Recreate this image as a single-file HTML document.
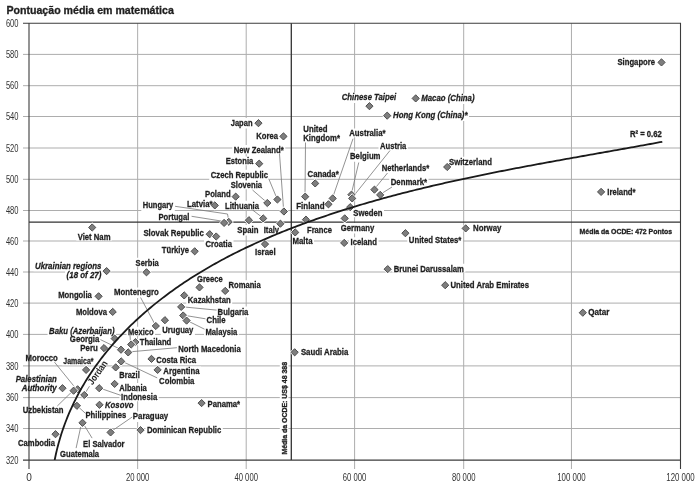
<!DOCTYPE html><html><head><meta charset="utf-8"><style>html,body{margin:0;padding:0;background:#fff;width:699px;height:487px;overflow:hidden}svg{display:block;filter:blur(0.4px)}text{font-family:"Liberation Sans",sans-serif}</style></head><body>
<svg width="699" height="487" viewBox="0 0 699 487">
<rect width="699" height="487" fill="#fff"/>
<text x="6.4" y="14.2" font-size="10.5" font-weight="bold" fill="#1e1e1e" stroke="#222" stroke-width="0.3" textLength="167.4" lengthAdjust="spacingAndGlyphs">Pontuação média em matemática</text>
<path d="M23,428.50H680.50M23,397.60H680.50M23,365.90H680.50M23,334.40H680.50M23,303.10H680.50M23,272.00H680.50M23,241.00H680.50M23,210.50H680.50M23,179.30H680.50M23,148.00H680.50M23,116.50H680.50M23,85.70H680.50M23,54.40H680.50M137.65,23.30V469M246.20,23.30V469M354.60,23.30V469M463.70,23.30V469M571.45,23.30V469" stroke="#adadad" stroke-width="1" fill="none"/>
<path d="M616.00,57.50h40.50v10.56h-40.50zM419.75,93.50h56.25v10.56h-56.25zM340.25,92.50h57.50v10.56h-57.50zM391.50,110.50h77.50v10.56h-77.50zM229.25,118.00h24.75v10.56h-24.75zM254.75,131.50h24.75v8.86h-24.75zM301.75,124.25h27.25v8.86h-27.25zM301.75,133.00h39.75v10.56h-39.75zM232.25,145.00h53.00v8.86h-53.00zM347.75,128.50h39.25v8.86h-39.25zM378.50,141.00h29.25v8.86h-29.25zM348.50,151.25h33.50v10.56h-33.50zM224.25,156.50h30.50v8.86h-30.50zM447.50,156.75h45.90v8.86h-45.90zM380.25,163.00h50.50v8.86h-50.50zM209.25,169.75h60.25v10.56h-60.25zM306.00,168.75h34.25v8.86h-34.25zM389.25,177.25h39.25v8.86h-39.25zM229.25,180.50h34.25v8.86h-34.25zM203.50,189.25h28.75v8.86h-28.75zM185.50,198.75h28.50v8.86h-28.50zM223.50,200.70h37.00v8.86h-37.00zM141.30,200.40h33.50v10.56h-33.50zM294.75,201.50h31.25v8.86h-31.25zM351.75,208.50h32.25v8.86h-32.25zM156.90,211.90h34.00v10.56h-34.00zM235.70,225.00h24.20v10.56h-24.20zM262.20,225.00h18.40v10.56h-18.40zM305.50,224.75h28.00v8.86h-28.00zM339.25,223.00h36.50v10.56h-36.50zM471.50,223.50h31.40v10.56h-31.40zM605.80,186.80h31.30v8.86h-31.30zM628.40,129.00h34.85v8.86h-34.85zM76.20,231.60h35.80v8.86h-35.80zM141.90,228.30h63.50v10.56h-63.50zM291.00,236.25h23.00v8.86h-23.00zM349.00,237.25h29.50v8.86h-29.50zM407.30,234.80h55.60v8.86h-55.60zM204.00,239.50h29.50v8.86h-29.50zM160.30,245.20h30.20v10.56h-30.20zM253.50,247.50h23.60v8.86h-23.60zM134.10,257.80h26.10v8.86h-26.10zM33.50,260.80h69.40v10.56h-69.40zM65.10,270.50h37.80v10.56h-37.80zM392.25,263.70h73.15v8.86h-73.15zM195.50,273.90h28.80v8.86h-28.80zM227.00,280.20h35.20v8.86h-35.20zM448.90,280.40h81.60v8.86h-81.60zM56.70,290.00h36.60v10.56h-36.60zM112.60,287.50h47.60v10.56h-47.60zM186.30,295.20h45.90v8.86h-45.90zM74.40,307.00h34.10v8.86h-34.10zM216.10,306.60h33.70v10.56h-33.70zM586.70,307.20h24.10v8.86h-24.10zM205.00,315.30h22.10v8.86h-22.10zM160.70,325.30h34.20v10.56h-34.20zM204.00,326.70h34.80v10.56h-34.80zM47.60,325.70h68.40v10.56h-68.40zM126.50,326.70h28.50v8.86h-28.50zM68.30,333.70h32.60v10.56h-32.60zM138.20,337.20h34.60v8.86h-34.60zM78.80,343.40h20.50v8.86h-20.50zM176.80,343.80h65.40v8.86h-65.40zM299.40,346.80h50.40v8.86h-50.40zM24.00,353.20h35.20v8.86h-35.20zM154.70,354.90h42.80v8.86h-42.80zM61.80,356.30h33.20v8.86h-33.20zM161.80,366.40h39.20v10.56h-39.20zM117.80,370.00h23.50v8.86h-23.50zM14.20,373.70h44.00v8.86h-44.00zM20.20,383.30h38.00v10.56h-38.00zM157.60,375.70h38.30v8.86h-38.30zM117.80,383.00h30.50v8.86h-30.50zM119.50,392.30h39.20v8.86h-39.20zM206.10,398.70h35.50v8.86h-35.50zM103.50,400.00h31.50v8.86h-31.50zM21.20,404.90h43.80v8.86h-43.80zM84.00,410.20h43.80v10.56h-43.80zM131.30,411.50h38.40v10.56h-38.40zM145.40,425.30h77.40v10.56h-77.40zM16.60,438.00h39.90v8.86h-39.90zM81.60,438.90h44.50v8.86h-44.50zM58.60,449.00h42.00v8.86h-42.00zM279.8,360.8h8.6v94.6h-8.6zM578.5,227.5h95v8h-95z" fill="#fff"/>
<path d="M23,23.30H680.50V460.10H23M29.00,23.30V469M680.50,23.30V469" stroke="#3c3c3c" stroke-width="1.1" fill="none"/>
<path d="M29.00,222.10H680.50M291.30,23.30V460.10" stroke="#333" stroke-width="1.3" fill="none"/>
<path d="M279.50,153.75L283.70,211.10M268.75,178.75L277.20,199.10M252.50,190.00L267.10,202.60M305.50,142.50L305.00,196.25M353.00,138.75L332.50,198.00M390.00,150.50L352.00,198.00M358.75,162.50L351.25,194.25M387.50,173.00L374.25,189.25M392.00,187.00L380.00,194.50M175.10,206.30L227.50,214.00L228.30,218.10M191.60,216.30L222.30,221.20M252.60,210.00L263.00,218.00M140.60,297.50L155.60,325.60M216.60,310.10L181.00,306.70M205.50,318.80L183.00,315.10M204.50,329.20L186.40,320.20M130.00,335.20L130.60,343.90M100.40,339.60L120.50,349.30M128.00,352.00L176.90,347.70M121.00,360.80L157.20,377.90M54.50,362.20L76.20,388.90M89.50,386.20L84.10,394.70M99.00,387.80L120.70,395.30M57.30,406.00L73.40,390.30M76.70,405.40L85.50,413.40M110.40,432.00L132.20,417.00M76.10,448.10L80.70,427.00M92.10,438.10L84.10,425.00" stroke="#777" stroke-width="0.8" fill="none"/>
<path d="M661.50,58.80l3.60,3.60l-3.60,3.60l-3.60,-3.60z" fill="#fff" stroke="#fff" stroke-width="2.2"/><path d="M661.50,58.80l3.60,3.60l-3.60,3.60l-3.60,-3.60z" fill="#7e7e7e" stroke="#4d4d4d" stroke-width="1"/><path d="M415.70,94.80l3.60,3.60l-3.60,3.60l-3.60,-3.60z" fill="#fff" stroke="#fff" stroke-width="2.2"/><path d="M415.70,94.80l3.60,3.60l-3.60,3.60l-3.60,-3.60z" fill="#7e7e7e" stroke="#4d4d4d" stroke-width="1"/><path d="M369.45,102.55l3.60,3.60l-3.60,3.60l-3.60,-3.60z" fill="#fff" stroke="#fff" stroke-width="2.2"/><path d="M369.45,102.55l3.60,3.60l-3.60,3.60l-3.60,-3.60z" fill="#7e7e7e" stroke="#4d4d4d" stroke-width="1"/><path d="M387.20,112.05l3.60,3.60l-3.60,3.60l-3.60,-3.60z" fill="#fff" stroke="#fff" stroke-width="2.2"/><path d="M387.20,112.05l3.60,3.60l-3.60,3.60l-3.60,-3.60z" fill="#7e7e7e" stroke="#4d4d4d" stroke-width="1"/><path d="M258.45,119.55l3.60,3.60l-3.60,3.60l-3.60,-3.60z" fill="#fff" stroke="#fff" stroke-width="2.2"/><path d="M258.45,119.55l3.60,3.60l-3.60,3.60l-3.60,-3.60z" fill="#7e7e7e" stroke="#4d4d4d" stroke-width="1"/><path d="M283.45,132.80l3.60,3.60l-3.60,3.60l-3.60,-3.60z" fill="#fff" stroke="#fff" stroke-width="2.2"/><path d="M283.45,132.80l3.60,3.60l-3.60,3.60l-3.60,-3.60z" fill="#7e7e7e" stroke="#4d4d4d" stroke-width="1"/><path d="M259.20,160.05l3.60,3.60l-3.60,3.60l-3.60,-3.60z" fill="#fff" stroke="#fff" stroke-width="2.2"/><path d="M259.20,160.05l3.60,3.60l-3.60,3.60l-3.60,-3.60z" fill="#7e7e7e" stroke="#4d4d4d" stroke-width="1"/><path d="M447.20,163.40l3.60,3.60l-3.60,3.60l-3.60,-3.60z" fill="#fff" stroke="#fff" stroke-width="2.2"/><path d="M447.20,163.40l3.60,3.60l-3.60,3.60l-3.60,-3.60z" fill="#7e7e7e" stroke="#4d4d4d" stroke-width="1"/><path d="M315.20,179.80l3.60,3.60l-3.60,3.60l-3.60,-3.60z" fill="#fff" stroke="#fff" stroke-width="2.2"/><path d="M315.20,179.80l3.60,3.60l-3.60,3.60l-3.60,-3.60z" fill="#7e7e7e" stroke="#4d4d4d" stroke-width="1"/><path d="M374.45,186.05l3.60,3.60l-3.60,3.60l-3.60,-3.60z" fill="#fff" stroke="#fff" stroke-width="2.2"/><path d="M374.45,186.05l3.60,3.60l-3.60,3.60l-3.60,-3.60z" fill="#7e7e7e" stroke="#4d4d4d" stroke-width="1"/><path d="M601.10,188.30l3.60,3.60l-3.60,3.60l-3.60,-3.60z" fill="#fff" stroke="#fff" stroke-width="2.2"/><path d="M601.10,188.30l3.60,3.60l-3.60,3.60l-3.60,-3.60z" fill="#7e7e7e" stroke="#4d4d4d" stroke-width="1"/><path d="M380.20,191.30l3.60,3.60l-3.60,3.60l-3.60,-3.60z" fill="#fff" stroke="#fff" stroke-width="2.2"/><path d="M380.20,191.30l3.60,3.60l-3.60,3.60l-3.60,-3.60z" fill="#7e7e7e" stroke="#4d4d4d" stroke-width="1"/><path d="M351.45,191.05l3.60,3.60l-3.60,3.60l-3.60,-3.60z" fill="#fff" stroke="#fff" stroke-width="2.2"/><path d="M351.45,191.05l3.60,3.60l-3.60,3.60l-3.60,-3.60z" fill="#7e7e7e" stroke="#4d4d4d" stroke-width="1"/><path d="M332.70,194.80l3.60,3.60l-3.60,3.60l-3.60,-3.60z" fill="#fff" stroke="#fff" stroke-width="2.2"/><path d="M332.70,194.80l3.60,3.60l-3.60,3.60l-3.60,-3.60z" fill="#7e7e7e" stroke="#4d4d4d" stroke-width="1"/><path d="M352.20,194.80l3.60,3.60l-3.60,3.60l-3.60,-3.60z" fill="#fff" stroke="#fff" stroke-width="2.2"/><path d="M352.20,194.80l3.60,3.60l-3.60,3.60l-3.60,-3.60z" fill="#7e7e7e" stroke="#4d4d4d" stroke-width="1"/><path d="M277.40,195.90l3.60,3.60l-3.60,3.60l-3.60,-3.60z" fill="#fff" stroke="#fff" stroke-width="2.2"/><path d="M277.40,195.90l3.60,3.60l-3.60,3.60l-3.60,-3.60z" fill="#7e7e7e" stroke="#4d4d4d" stroke-width="1"/><path d="M305.20,193.05l3.60,3.60l-3.60,3.60l-3.60,-3.60z" fill="#fff" stroke="#fff" stroke-width="2.2"/><path d="M305.20,193.05l3.60,3.60l-3.60,3.60l-3.60,-3.60z" fill="#7e7e7e" stroke="#4d4d4d" stroke-width="1"/><path d="M267.30,199.40l3.60,3.60l-3.60,3.60l-3.60,-3.60z" fill="#fff" stroke="#fff" stroke-width="2.2"/><path d="M267.30,199.40l3.60,3.60l-3.60,3.60l-3.60,-3.60z" fill="#7e7e7e" stroke="#4d4d4d" stroke-width="1"/><path d="M328.45,200.70l3.60,3.60l-3.60,3.60l-3.60,-3.60z" fill="#fff" stroke="#fff" stroke-width="2.2"/><path d="M328.45,200.70l3.60,3.60l-3.60,3.60l-3.60,-3.60z" fill="#7e7e7e" stroke="#4d4d4d" stroke-width="1"/><path d="M235.70,193.05l3.60,3.60l-3.60,3.60l-3.60,-3.60z" fill="#fff" stroke="#fff" stroke-width="2.2"/><path d="M235.70,193.05l3.60,3.60l-3.60,3.60l-3.60,-3.60z" fill="#7e7e7e" stroke="#4d4d4d" stroke-width="1"/><path d="M214.80,201.80l3.60,3.60l-3.60,3.60l-3.60,-3.60z" fill="#fff" stroke="#fff" stroke-width="2.2"/><path d="M214.80,201.80l3.60,3.60l-3.60,3.60l-3.60,-3.60z" fill="#7e7e7e" stroke="#4d4d4d" stroke-width="1"/><path d="M350.20,203.55l3.60,3.60l-3.60,3.60l-3.60,-3.60z" fill="#fff" stroke="#fff" stroke-width="2.2"/><path d="M350.20,203.55l3.60,3.60l-3.60,3.60l-3.60,-3.60z" fill="#7e7e7e" stroke="#4d4d4d" stroke-width="1"/><path d="M283.90,207.90l3.60,3.60l-3.60,3.60l-3.60,-3.60z" fill="#fff" stroke="#fff" stroke-width="2.2"/><path d="M283.90,207.90l3.60,3.60l-3.60,3.60l-3.60,-3.60z" fill="#7e7e7e" stroke="#4d4d4d" stroke-width="1"/><path d="M263.20,214.80l3.60,3.60l-3.60,3.60l-3.60,-3.60z" fill="#fff" stroke="#fff" stroke-width="2.2"/><path d="M263.20,214.80l3.60,3.60l-3.60,3.60l-3.60,-3.60z" fill="#7e7e7e" stroke="#4d4d4d" stroke-width="1"/><path d="M344.70,214.80l3.60,3.60l-3.60,3.60l-3.60,-3.60z" fill="#fff" stroke="#fff" stroke-width="2.2"/><path d="M344.70,214.80l3.60,3.60l-3.60,3.60l-3.60,-3.60z" fill="#7e7e7e" stroke="#4d4d4d" stroke-width="1"/><path d="M305.95,216.05l3.60,3.60l-3.60,3.60l-3.60,-3.60z" fill="#fff" stroke="#fff" stroke-width="2.2"/><path d="M305.95,216.05l3.60,3.60l-3.60,3.60l-3.60,-3.60z" fill="#7e7e7e" stroke="#4d4d4d" stroke-width="1"/><path d="M248.90,216.60l3.60,3.60l-3.60,3.60l-3.60,-3.60z" fill="#fff" stroke="#fff" stroke-width="2.2"/><path d="M248.90,216.60l3.60,3.60l-3.60,3.60l-3.60,-3.60z" fill="#7e7e7e" stroke="#4d4d4d" stroke-width="1"/><path d="M228.70,218.30l3.60,3.60l-3.60,3.60l-3.60,-3.60z" fill="#fff" stroke="#fff" stroke-width="2.2"/><path d="M228.70,218.30l3.60,3.60l-3.60,3.60l-3.60,-3.60z" fill="#7e7e7e" stroke="#4d4d4d" stroke-width="1"/><path d="M224.10,219.30l3.60,3.60l-3.60,3.60l-3.60,-3.60z" fill="#fff" stroke="#fff" stroke-width="2.2"/><path d="M224.10,219.30l3.60,3.60l-3.60,3.60l-3.60,-3.60z" fill="#7e7e7e" stroke="#4d4d4d" stroke-width="1"/><path d="M280.40,220.10l3.60,3.60l-3.60,3.60l-3.60,-3.60z" fill="#fff" stroke="#fff" stroke-width="2.2"/><path d="M280.40,220.10l3.60,3.60l-3.60,3.60l-3.60,-3.60z" fill="#7e7e7e" stroke="#4d4d4d" stroke-width="1"/><path d="M92.20,223.90l3.60,3.60l-3.60,3.60l-3.60,-3.60z" fill="#fff" stroke="#fff" stroke-width="2.2"/><path d="M92.20,223.90l3.60,3.60l-3.60,3.60l-3.60,-3.60z" fill="#7e7e7e" stroke="#4d4d4d" stroke-width="1"/><path d="M295.20,228.80l3.60,3.60l-3.60,3.60l-3.60,-3.60z" fill="#fff" stroke="#fff" stroke-width="2.2"/><path d="M295.20,228.80l3.60,3.60l-3.60,3.60l-3.60,-3.60z" fill="#7e7e7e" stroke="#4d4d4d" stroke-width="1"/><path d="M405.40,229.60l3.60,3.60l-3.60,3.60l-3.60,-3.60z" fill="#fff" stroke="#fff" stroke-width="2.2"/><path d="M405.40,229.60l3.60,3.60l-3.60,3.60l-3.60,-3.60z" fill="#7e7e7e" stroke="#4d4d4d" stroke-width="1"/><path d="M465.70,224.80l3.60,3.60l-3.60,3.60l-3.60,-3.60z" fill="#fff" stroke="#fff" stroke-width="2.2"/><path d="M465.70,224.80l3.60,3.60l-3.60,3.60l-3.60,-3.60z" fill="#7e7e7e" stroke="#4d4d4d" stroke-width="1"/><path d="M209.70,230.60l3.60,3.60l-3.60,3.60l-3.60,-3.60z" fill="#fff" stroke="#fff" stroke-width="2.2"/><path d="M209.70,230.60l3.60,3.60l-3.60,3.60l-3.60,-3.60z" fill="#7e7e7e" stroke="#4d4d4d" stroke-width="1"/><path d="M216.20,232.90l3.60,3.60l-3.60,3.60l-3.60,-3.60z" fill="#fff" stroke="#fff" stroke-width="2.2"/><path d="M216.20,232.90l3.60,3.60l-3.60,3.60l-3.60,-3.60z" fill="#7e7e7e" stroke="#4d4d4d" stroke-width="1"/><path d="M344.20,239.30l3.60,3.60l-3.60,3.60l-3.60,-3.60z" fill="#fff" stroke="#fff" stroke-width="2.2"/><path d="M344.20,239.30l3.60,3.60l-3.60,3.60l-3.60,-3.60z" fill="#7e7e7e" stroke="#4d4d4d" stroke-width="1"/><path d="M265.00,240.50l3.60,3.60l-3.60,3.60l-3.60,-3.60z" fill="#fff" stroke="#fff" stroke-width="2.2"/><path d="M265.00,240.50l3.60,3.60l-3.60,3.60l-3.60,-3.60z" fill="#7e7e7e" stroke="#4d4d4d" stroke-width="1"/><path d="M194.70,247.70l3.60,3.60l-3.60,3.60l-3.60,-3.60z" fill="#fff" stroke="#fff" stroke-width="2.2"/><path d="M194.70,247.70l3.60,3.60l-3.60,3.60l-3.60,-3.60z" fill="#7e7e7e" stroke="#4d4d4d" stroke-width="1"/><path d="M387.70,265.55l3.60,3.60l-3.60,3.60l-3.60,-3.60z" fill="#fff" stroke="#fff" stroke-width="2.2"/><path d="M387.70,265.55l3.60,3.60l-3.60,3.60l-3.60,-3.60z" fill="#7e7e7e" stroke="#4d4d4d" stroke-width="1"/><path d="M106.60,267.50l3.60,3.60l-3.60,3.60l-3.60,-3.60z" fill="#fff" stroke="#fff" stroke-width="2.2"/><path d="M106.60,267.50l3.60,3.60l-3.60,3.60l-3.60,-3.60z" fill="#7e7e7e" stroke="#4d4d4d" stroke-width="1"/><path d="M146.50,268.70l3.60,3.60l-3.60,3.60l-3.60,-3.60z" fill="#fff" stroke="#fff" stroke-width="2.2"/><path d="M146.50,268.70l3.60,3.60l-3.60,3.60l-3.60,-3.60z" fill="#7e7e7e" stroke="#4d4d4d" stroke-width="1"/><path d="M445.20,281.60l3.60,3.60l-3.60,3.60l-3.60,-3.60z" fill="#fff" stroke="#fff" stroke-width="2.2"/><path d="M445.20,281.60l3.60,3.60l-3.60,3.60l-3.60,-3.60z" fill="#7e7e7e" stroke="#4d4d4d" stroke-width="1"/><path d="M199.50,283.80l3.60,3.60l-3.60,3.60l-3.60,-3.60z" fill="#fff" stroke="#fff" stroke-width="2.2"/><path d="M199.50,283.80l3.60,3.60l-3.60,3.60l-3.60,-3.60z" fill="#7e7e7e" stroke="#4d4d4d" stroke-width="1"/><path d="M225.20,287.30l3.60,3.60l-3.60,3.60l-3.60,-3.60z" fill="#fff" stroke="#fff" stroke-width="2.2"/><path d="M225.20,287.30l3.60,3.60l-3.60,3.60l-3.60,-3.60z" fill="#7e7e7e" stroke="#4d4d4d" stroke-width="1"/><path d="M184.20,291.80l3.60,3.60l-3.60,3.60l-3.60,-3.60z" fill="#fff" stroke="#fff" stroke-width="2.2"/><path d="M184.20,291.80l3.60,3.60l-3.60,3.60l-3.60,-3.60z" fill="#7e7e7e" stroke="#4d4d4d" stroke-width="1"/><path d="M98.60,292.70l3.60,3.60l-3.60,3.60l-3.60,-3.60z" fill="#fff" stroke="#fff" stroke-width="2.2"/><path d="M98.60,292.70l3.60,3.60l-3.60,3.60l-3.60,-3.60z" fill="#7e7e7e" stroke="#4d4d4d" stroke-width="1"/><path d="M181.20,303.30l3.60,3.60l-3.60,3.60l-3.60,-3.60z" fill="#fff" stroke="#fff" stroke-width="2.2"/><path d="M181.20,303.30l3.60,3.60l-3.60,3.60l-3.60,-3.60z" fill="#7e7e7e" stroke="#4d4d4d" stroke-width="1"/><path d="M112.70,308.30l3.60,3.60l-3.60,3.60l-3.60,-3.60z" fill="#fff" stroke="#fff" stroke-width="2.2"/><path d="M112.70,308.30l3.60,3.60l-3.60,3.60l-3.60,-3.60z" fill="#7e7e7e" stroke="#4d4d4d" stroke-width="1"/><path d="M582.80,309.10l3.60,3.60l-3.60,3.60l-3.60,-3.60z" fill="#fff" stroke="#fff" stroke-width="2.2"/><path d="M582.80,309.10l3.60,3.60l-3.60,3.60l-3.60,-3.60z" fill="#7e7e7e" stroke="#4d4d4d" stroke-width="1"/><path d="M183.20,311.90l3.60,3.60l-3.60,3.60l-3.60,-3.60z" fill="#fff" stroke="#fff" stroke-width="2.2"/><path d="M183.20,311.90l3.60,3.60l-3.60,3.60l-3.60,-3.60z" fill="#7e7e7e" stroke="#4d4d4d" stroke-width="1"/><path d="M164.90,316.60l3.60,3.60l-3.60,3.60l-3.60,-3.60z" fill="#fff" stroke="#fff" stroke-width="2.2"/><path d="M164.90,316.60l3.60,3.60l-3.60,3.60l-3.60,-3.60z" fill="#7e7e7e" stroke="#4d4d4d" stroke-width="1"/><path d="M186.60,317.00l3.60,3.60l-3.60,3.60l-3.60,-3.60z" fill="#fff" stroke="#fff" stroke-width="2.2"/><path d="M186.60,317.00l3.60,3.60l-3.60,3.60l-3.60,-3.60z" fill="#7e7e7e" stroke="#4d4d4d" stroke-width="1"/><path d="M155.80,322.40l3.60,3.60l-3.60,3.60l-3.60,-3.60z" fill="#fff" stroke="#fff" stroke-width="2.2"/><path d="M155.80,322.40l3.60,3.60l-3.60,3.60l-3.60,-3.60z" fill="#7e7e7e" stroke="#4d4d4d" stroke-width="1"/><path d="M114.70,335.00l3.60,3.60l-3.60,3.60l-3.60,-3.60z" fill="#fff" stroke="#fff" stroke-width="2.2"/><path d="M114.70,335.00l3.60,3.60l-3.60,3.60l-3.60,-3.60z" fill="#7e7e7e" stroke="#4d4d4d" stroke-width="1"/><path d="M135.40,338.50l3.60,3.60l-3.60,3.60l-3.60,-3.60z" fill="#fff" stroke="#fff" stroke-width="2.2"/><path d="M135.40,338.50l3.60,3.60l-3.60,3.60l-3.60,-3.60z" fill="#7e7e7e" stroke="#4d4d4d" stroke-width="1"/><path d="M131.20,340.90l3.60,3.60l-3.60,3.60l-3.60,-3.60z" fill="#fff" stroke="#fff" stroke-width="2.2"/><path d="M131.20,340.90l3.60,3.60l-3.60,3.60l-3.60,-3.60z" fill="#7e7e7e" stroke="#4d4d4d" stroke-width="1"/><path d="M121.00,346.10l3.60,3.60l-3.60,3.60l-3.60,-3.60z" fill="#fff" stroke="#fff" stroke-width="2.2"/><path d="M121.00,346.10l3.60,3.60l-3.60,3.60l-3.60,-3.60z" fill="#7e7e7e" stroke="#4d4d4d" stroke-width="1"/><path d="M104.00,344.50l3.60,3.60l-3.60,3.60l-3.60,-3.60z" fill="#fff" stroke="#fff" stroke-width="2.2"/><path d="M104.00,344.50l3.60,3.60l-3.60,3.60l-3.60,-3.60z" fill="#7e7e7e" stroke="#4d4d4d" stroke-width="1"/><path d="M128.20,348.80l3.60,3.60l-3.60,3.60l-3.60,-3.60z" fill="#fff" stroke="#fff" stroke-width="2.2"/><path d="M128.20,348.80l3.60,3.60l-3.60,3.60l-3.60,-3.60z" fill="#7e7e7e" stroke="#4d4d4d" stroke-width="1"/><path d="M294.65,348.70l3.60,3.60l-3.60,3.60l-3.60,-3.60z" fill="#fff" stroke="#fff" stroke-width="2.2"/><path d="M294.65,348.70l3.60,3.60l-3.60,3.60l-3.60,-3.60z" fill="#7e7e7e" stroke="#4d4d4d" stroke-width="1"/><path d="M151.50,355.30l3.60,3.60l-3.60,3.60l-3.60,-3.60z" fill="#fff" stroke="#fff" stroke-width="2.2"/><path d="M151.50,355.30l3.60,3.60l-3.60,3.60l-3.60,-3.60z" fill="#7e7e7e" stroke="#4d4d4d" stroke-width="1"/><path d="M121.20,357.80l3.60,3.60l-3.60,3.60l-3.60,-3.60z" fill="#fff" stroke="#fff" stroke-width="2.2"/><path d="M121.20,357.80l3.60,3.60l-3.60,3.60l-3.60,-3.60z" fill="#7e7e7e" stroke="#4d4d4d" stroke-width="1"/><path d="M115.70,363.80l3.60,3.60l-3.60,3.60l-3.60,-3.60z" fill="#fff" stroke="#fff" stroke-width="2.2"/><path d="M115.70,363.80l3.60,3.60l-3.60,3.60l-3.60,-3.60z" fill="#7e7e7e" stroke="#4d4d4d" stroke-width="1"/><path d="M157.60,366.30l3.60,3.60l-3.60,3.60l-3.60,-3.60z" fill="#fff" stroke="#fff" stroke-width="2.2"/><path d="M157.60,366.30l3.60,3.60l-3.60,3.60l-3.60,-3.60z" fill="#7e7e7e" stroke="#4d4d4d" stroke-width="1"/><path d="M86.10,366.30l3.60,3.60l-3.60,3.60l-3.60,-3.60z" fill="#fff" stroke="#fff" stroke-width="2.2"/><path d="M86.10,366.30l3.60,3.60l-3.60,3.60l-3.60,-3.60z" fill="#7e7e7e" stroke="#4d4d4d" stroke-width="1"/><path d="M114.60,380.30l3.60,3.60l-3.60,3.60l-3.60,-3.60z" fill="#fff" stroke="#fff" stroke-width="2.2"/><path d="M114.60,380.30l3.60,3.60l-3.60,3.60l-3.60,-3.60z" fill="#7e7e7e" stroke="#4d4d4d" stroke-width="1"/><path d="M99.20,384.60l3.60,3.60l-3.60,3.60l-3.60,-3.60z" fill="#fff" stroke="#fff" stroke-width="2.2"/><path d="M99.20,384.60l3.60,3.60l-3.60,3.60l-3.60,-3.60z" fill="#7e7e7e" stroke="#4d4d4d" stroke-width="1"/><path d="M62.50,384.60l3.60,3.60l-3.60,3.60l-3.60,-3.60z" fill="#fff" stroke="#fff" stroke-width="2.2"/><path d="M62.50,384.60l3.60,3.60l-3.60,3.60l-3.60,-3.60z" fill="#7e7e7e" stroke="#4d4d4d" stroke-width="1"/><path d="M77.60,385.70l3.60,3.60l-3.60,3.60l-3.60,-3.60z" fill="#fff" stroke="#fff" stroke-width="2.2"/><path d="M77.60,385.70l3.60,3.60l-3.60,3.60l-3.60,-3.60z" fill="#7e7e7e" stroke="#4d4d4d" stroke-width="1"/><path d="M73.60,387.10l3.60,3.60l-3.60,3.60l-3.60,-3.60z" fill="#fff" stroke="#fff" stroke-width="2.2"/><path d="M73.60,387.10l3.60,3.60l-3.60,3.60l-3.60,-3.60z" fill="#7e7e7e" stroke="#4d4d4d" stroke-width="1"/><path d="M84.30,391.40l3.60,3.60l-3.60,3.60l-3.60,-3.60z" fill="#fff" stroke="#fff" stroke-width="2.2"/><path d="M84.30,391.40l3.60,3.60l-3.60,3.60l-3.60,-3.60z" fill="#7e7e7e" stroke="#4d4d4d" stroke-width="1"/><path d="M201.60,399.50l3.60,3.60l-3.60,3.60l-3.60,-3.60z" fill="#fff" stroke="#fff" stroke-width="2.2"/><path d="M201.60,399.50l3.60,3.60l-3.60,3.60l-3.60,-3.60z" fill="#7e7e7e" stroke="#4d4d4d" stroke-width="1"/><path d="M99.50,401.20l3.60,3.60l-3.60,3.60l-3.60,-3.60z" fill="#fff" stroke="#fff" stroke-width="2.2"/><path d="M99.50,401.20l3.60,3.60l-3.60,3.60l-3.60,-3.60z" fill="#7e7e7e" stroke="#4d4d4d" stroke-width="1"/><path d="M76.90,402.20l3.60,3.60l-3.60,3.60l-3.60,-3.60z" fill="#fff" stroke="#fff" stroke-width="2.2"/><path d="M76.90,402.20l3.60,3.60l-3.60,3.60l-3.60,-3.60z" fill="#7e7e7e" stroke="#4d4d4d" stroke-width="1"/><path d="M82.50,419.20l3.60,3.60l-3.60,3.60l-3.60,-3.60z" fill="#fff" stroke="#fff" stroke-width="2.2"/><path d="M82.50,419.20l3.60,3.60l-3.60,3.60l-3.60,-3.60z" fill="#7e7e7e" stroke="#4d4d4d" stroke-width="1"/><path d="M110.60,428.80l3.60,3.60l-3.60,3.60l-3.60,-3.60z" fill="#fff" stroke="#fff" stroke-width="2.2"/><path d="M110.60,428.80l3.60,3.60l-3.60,3.60l-3.60,-3.60z" fill="#7e7e7e" stroke="#4d4d4d" stroke-width="1"/><path d="M140.50,426.50l3.60,3.60l-3.60,3.60l-3.60,-3.60z" fill="#fff" stroke="#fff" stroke-width="2.2"/><path d="M140.50,426.50l3.60,3.60l-3.60,3.60l-3.60,-3.60z" fill="#7e7e7e" stroke="#4d4d4d" stroke-width="1"/><path d="M55.50,430.60l3.60,3.60l-3.60,3.60l-3.60,-3.60z" fill="#fff" stroke="#fff" stroke-width="2.2"/><path d="M55.50,430.60l3.60,3.60l-3.60,3.60l-3.60,-3.60z" fill="#7e7e7e" stroke="#4d4d4d" stroke-width="1"/>
<clipPath id="cc"><rect x="0" y="0" width="699" height="460.1"/></clipPath>
<path clip-path="url(#cc)" d="M54.64,460.19 L55.14,457.71 L55.66,455.24 L56.21,452.78 L56.79,450.34 L57.39,447.90 L58.01,445.49 L58.66,443.08 L59.33,440.69 L60.03,438.31 L60.75,435.94 L61.49,433.58 L62.26,431.24 L63.05,428.91 L63.86,426.60 L64.70,424.29 L65.55,422.00 L66.44,419.72 L67.34,417.45 L68.26,415.20 L69.21,412.96 L70.18,410.73 L71.17,408.51 L72.18,406.31 L73.21,404.12 L74.27,401.94 L75.34,399.78 L76.43,397.62 L77.55,395.48 L78.68,393.35 L79.84,391.24 L81.01,389.13 L82.20,387.04 L83.42,384.96 L84.65,382.90 L85.90,380.84 L87.17,378.80 L88.46,376.77 L89.76,374.76 L91.09,372.75 L92.43,370.76 L93.79,368.78 L95.17,366.82 L96.56,364.86 L97.97,362.92 L99.40,360.99 L100.85,359.07 L102.31,357.17 L103.79,355.27 L105.28,353.39 L106.80,351.52 L108.32,349.67 L109.86,347.82 L111.42,345.99 L112.99,344.17 L114.58,342.36 L116.18,340.57 L117.80,338.79 L119.43,337.01 L121.08,335.26 L122.74,333.51 L124.41,331.77 L126.10,330.05 L127.80,328.34 L129.51,326.64 L131.24,324.96 L132.98,323.28 L134.73,321.62 L136.50,319.97 L138.28,318.33 L140.07,316.71 L141.87,315.09 L143.68,313.49 L145.50,311.90 L147.34,310.32 L149.19,308.76 L151.04,307.20 L152.91,305.66 L154.79,304.13 L156.68,302.61 L158.58,301.11 L160.49,299.61 L162.41,298.13 L164.34,296.66 L166.28,295.20 L168.22,293.75 L170.18,292.32 L172.14,290.90 L174.12,289.48 L176.10,288.08 L178.09,286.70 L180.09,285.32 L182.10,283.95 L184.11,282.60 L186.14,281.26 L188.17,279.93 L190.21,278.61 L192.25,277.30 L194.31,276.00 L196.37,274.71 L198.44,273.43 L200.52,272.17 L202.60,270.91 L204.69,269.67 L206.79,268.43 L208.90,267.21 L211.01,266.00 L213.13,264.79 L215.25,263.60 L217.38,262.42 L219.52,261.25 L221.67,260.08 L223.82,258.93 L225.97,257.79 L228.14,256.65 L230.30,255.53 L232.48,254.42 L234.66,253.31 L236.84,252.22 L239.03,251.13 L241.23,250.05 L243.43,248.99 L245.64,247.93 L247.85,246.88 L250.07,245.84 L252.29,244.81 L254.51,243.78 L256.74,242.77 L258.98,241.77 L261.22,240.77 L263.46,239.78 L265.71,238.80 L267.96,237.83 L270.22,236.87 L272.48,235.91 L274.74,234.96 L277.01,234.03 L279.28,233.10 L281.55,232.17 L283.83,231.26 L286.11,230.35 L288.40,229.45 L290.68,228.56 L292.97,227.67 L295.27,226.80 L297.56,225.93 L299.86,225.06 L302.16,224.21 L304.46,223.36 L306.77,222.52 L309.08,221.68 L311.39,220.86 L313.70,220.04 L316.01,219.22 L318.33,218.41 L320.64,217.61 L322.96,216.82 L325.28,216.03 L327.60,215.25 L329.93,214.47 L332.25,213.70 L334.57,212.94 L336.90,212.18 L339.23,211.43 L341.56,210.69 L343.88,209.95 L346.21,209.22 L348.55,208.49 L350.88,207.77 L353.21,207.05 L355.55,206.34 L357.88,205.64 L360.22,204.94 L362.56,204.24 L364.90,203.55 L367.23,202.87 L369.58,202.19 L371.92,201.52 L374.26,200.85 L376.60,200.19 L378.95,199.53 L381.29,198.88 L383.64,198.23 L385.99,197.59 L388.34,196.96 L390.69,196.32 L393.04,195.69 L395.39,195.07 L397.74,194.45 L400.09,193.84 L402.44,193.23 L404.80,192.62 L407.15,192.02 L409.51,191.43 L411.87,190.84 L414.23,190.25 L416.58,189.67 L418.94,189.09 L421.30,188.51 L423.67,187.94 L426.03,187.37 L428.39,186.81 L430.75,186.25 L433.12,185.69 L435.48,185.14 L437.85,184.59 L440.22,184.05 L442.58,183.51 L444.95,182.97 L447.32,182.44 L449.69,181.91 L452.06,181.38 L454.43,180.86 L456.80,180.34 L459.17,179.82 L461.55,179.31 L463.92,178.80 L466.29,178.29 L468.67,177.78 L471.04,177.28 L473.42,176.78 L475.79,176.29 L478.17,175.79 L480.55,175.30 L482.93,174.81 L485.31,174.33 L487.69,173.84 L490.07,173.36 L492.45,172.89 L494.83,172.41 L497.21,171.94 L499.59,171.47 L501.97,171.00 L504.36,170.53 L506.74,170.07 L509.12,169.60 L511.51,169.14 L513.89,168.69 L516.28,168.23 L518.66,167.77 L521.05,167.32 L523.44,166.87 L525.82,166.42 L528.21,165.97 L530.60,165.53 L532.99,165.08 L535.38,164.64 L537.76,164.20 L540.15,163.75 L542.54,163.32 L544.93,162.88 L547.32,162.44 L549.71,162.00 L552.11,161.57 L554.50,161.14 L556.89,160.70 L559.28,160.27 L561.67,159.84 L564.07,159.41 L566.46,158.98 L568.85,158.55 L571.24,158.12 L573.64,157.70 L576.03,157.27 L578.43,156.84 L580.82,156.42 L583.21,155.99 L585.61,155.56 L588.00,155.14 L590.40,154.71 L592.79,154.29 L595.19,153.86 L597.58,153.44 L599.98,153.01 L602.38,152.59 L604.77,152.16 L607.17,151.74 L609.56,151.31 L611.96,150.89 L614.36,150.46 L616.75,150.03 L619.15,149.61 L621.55,149.18 L623.94,148.75 L626.34,148.32 L628.74,147.89 L631.13,147.46 L633.53,147.03 L635.93,146.60 L638.32,146.17 L640.72,145.73 L643.12,145.30 L645.51,144.86 L647.91,144.43 L650.31,143.99 L652.70,143.55 L655.10,143.11 L657.50,142.67 L659.89,142.22 L662.29,141.78" stroke="#1a1a1a" stroke-width="1.8" fill="none" stroke-linecap="butt"/>
<text x="617.50" y="65.46" font-size="9.6" font-weight="bold" fill="#1e1e1e" stroke="#1e1e1e" stroke-width="0.3" textLength="37.50" lengthAdjust="spacingAndGlyphs">Singapore</text>
<text x="421.25" y="101.46" font-size="9.6" font-weight="bold" font-style="italic" fill="#1e1e1e" stroke="#1e1e1e" stroke-width="0.3" textLength="53.25" lengthAdjust="spacingAndGlyphs">Macao (China)</text>
<text x="341.75" y="100.46" font-size="9.6" font-weight="bold" font-style="italic" fill="#1e1e1e" stroke="#1e1e1e" stroke-width="0.3" textLength="54.50" lengthAdjust="spacingAndGlyphs">Chinese Taipei</text>
<text x="393.00" y="118.46" font-size="9.6" font-weight="bold" font-style="italic" fill="#1e1e1e" stroke="#1e1e1e" stroke-width="0.3" textLength="74.50" lengthAdjust="spacingAndGlyphs">Hong Kong (China)*</text>
<text x="230.75" y="125.96" font-size="9.6" font-weight="bold" fill="#1e1e1e" stroke="#1e1e1e" stroke-width="0.3" textLength="21.75" lengthAdjust="spacingAndGlyphs">Japan</text>
<text x="256.25" y="139.46" font-size="9.6" font-weight="bold" fill="#1e1e1e" stroke="#1e1e1e" stroke-width="0.3" textLength="21.75" lengthAdjust="spacingAndGlyphs">Korea</text>
<text x="303.25" y="132.21" font-size="9.6" font-weight="bold" fill="#1e1e1e" stroke="#1e1e1e" stroke-width="0.3" textLength="24.25" lengthAdjust="spacingAndGlyphs">United</text>
<text x="303.25" y="140.96" font-size="9.6" font-weight="bold" fill="#1e1e1e" stroke="#1e1e1e" stroke-width="0.3" textLength="36.75" lengthAdjust="spacingAndGlyphs">Kingdom*</text>
<text x="233.75" y="152.96" font-size="9.6" font-weight="bold" fill="#1e1e1e" stroke="#1e1e1e" stroke-width="0.3" textLength="50.00" lengthAdjust="spacingAndGlyphs">New Zealand*</text>
<text x="349.25" y="136.46" font-size="9.6" font-weight="bold" fill="#1e1e1e" stroke="#1e1e1e" stroke-width="0.3" textLength="36.25" lengthAdjust="spacingAndGlyphs">Australia*</text>
<text x="380.00" y="148.96" font-size="9.6" font-weight="bold" fill="#1e1e1e" stroke="#1e1e1e" stroke-width="0.3" textLength="26.25" lengthAdjust="spacingAndGlyphs">Austria</text>
<text x="350.00" y="159.21" font-size="9.6" font-weight="bold" fill="#1e1e1e" stroke="#1e1e1e" stroke-width="0.3" textLength="30.50" lengthAdjust="spacingAndGlyphs">Belgium</text>
<text x="225.75" y="164.46" font-size="9.6" font-weight="bold" fill="#1e1e1e" stroke="#1e1e1e" stroke-width="0.3" textLength="27.50" lengthAdjust="spacingAndGlyphs">Estonia</text>
<text x="449.00" y="164.71" font-size="9.6" font-weight="bold" fill="#1e1e1e" stroke="#1e1e1e" stroke-width="0.3" textLength="42.90" lengthAdjust="spacingAndGlyphs">Switzerland</text>
<text x="381.75" y="170.96" font-size="9.6" font-weight="bold" fill="#1e1e1e" stroke="#1e1e1e" stroke-width="0.3" textLength="47.50" lengthAdjust="spacingAndGlyphs">Netherlands*</text>
<text x="210.75" y="177.71" font-size="9.6" font-weight="bold" fill="#1e1e1e" stroke="#1e1e1e" stroke-width="0.3" textLength="57.25" lengthAdjust="spacingAndGlyphs">Czech Republic</text>
<text x="307.50" y="176.71" font-size="9.6" font-weight="bold" fill="#1e1e1e" stroke="#1e1e1e" stroke-width="0.3" textLength="31.25" lengthAdjust="spacingAndGlyphs">Canada*</text>
<text x="390.75" y="185.21" font-size="9.6" font-weight="bold" fill="#1e1e1e" stroke="#1e1e1e" stroke-width="0.3" textLength="36.25" lengthAdjust="spacingAndGlyphs">Denmark*</text>
<text x="230.75" y="188.46" font-size="9.6" font-weight="bold" fill="#1e1e1e" stroke="#1e1e1e" stroke-width="0.3" textLength="31.25" lengthAdjust="spacingAndGlyphs">Slovenia</text>
<text x="205.00" y="197.21" font-size="9.6" font-weight="bold" fill="#1e1e1e" stroke="#1e1e1e" stroke-width="0.3" textLength="25.75" lengthAdjust="spacingAndGlyphs">Poland</text>
<text x="187.00" y="206.71" font-size="9.6" font-weight="bold" fill="#1e1e1e" stroke="#1e1e1e" stroke-width="0.3" textLength="25.50" lengthAdjust="spacingAndGlyphs">Latvia*</text>
<text x="225.00" y="208.66" font-size="9.6" font-weight="bold" fill="#1e1e1e" stroke="#1e1e1e" stroke-width="0.3" textLength="34.00" lengthAdjust="spacingAndGlyphs">Lithuania</text>
<text x="142.80" y="208.36" font-size="9.6" font-weight="bold" fill="#1e1e1e" stroke="#1e1e1e" stroke-width="0.3" textLength="30.50" lengthAdjust="spacingAndGlyphs">Hungary</text>
<text x="296.25" y="209.46" font-size="9.6" font-weight="bold" fill="#1e1e1e" stroke="#1e1e1e" stroke-width="0.3" textLength="28.25" lengthAdjust="spacingAndGlyphs">Finland</text>
<text x="353.25" y="216.46" font-size="9.6" font-weight="bold" fill="#1e1e1e" stroke="#1e1e1e" stroke-width="0.3" textLength="29.25" lengthAdjust="spacingAndGlyphs">Sweden</text>
<text x="158.40" y="219.86" font-size="9.6" font-weight="bold" fill="#1e1e1e" stroke="#1e1e1e" stroke-width="0.3" textLength="31.00" lengthAdjust="spacingAndGlyphs">Portugal</text>
<text x="237.20" y="232.96" font-size="9.6" font-weight="bold" fill="#1e1e1e" stroke="#1e1e1e" stroke-width="0.3" textLength="21.20" lengthAdjust="spacingAndGlyphs">Spain</text>
<text x="263.70" y="232.96" font-size="9.6" font-weight="bold" fill="#1e1e1e" stroke="#1e1e1e" stroke-width="0.3" textLength="15.40" lengthAdjust="spacingAndGlyphs">Italy</text>
<text x="307.00" y="232.71" font-size="9.6" font-weight="bold" fill="#1e1e1e" stroke="#1e1e1e" stroke-width="0.3" textLength="25.00" lengthAdjust="spacingAndGlyphs">France</text>
<text x="340.75" y="230.96" font-size="9.6" font-weight="bold" fill="#1e1e1e" stroke="#1e1e1e" stroke-width="0.3" textLength="33.50" lengthAdjust="spacingAndGlyphs">Germany</text>
<text x="473.00" y="231.46" font-size="9.6" font-weight="bold" fill="#1e1e1e" stroke="#1e1e1e" stroke-width="0.3" textLength="28.40" lengthAdjust="spacingAndGlyphs">Norway</text>
<text x="607.30" y="194.76" font-size="9.6" font-weight="bold" fill="#1e1e1e" stroke="#1e1e1e" stroke-width="0.3" textLength="28.30" lengthAdjust="spacingAndGlyphs">Ireland*</text>
<text x="629.90" y="136.74" font-size="9.0" font-weight="bold" fill="#1e1e1e" stroke="#1e1e1e" stroke-width="0.3" textLength="31.85" lengthAdjust="spacingAndGlyphs">R² = 0.62</text>
<text x="77.70" y="239.56" font-size="9.6" font-weight="bold" fill="#1e1e1e" stroke="#1e1e1e" stroke-width="0.3" textLength="32.80" lengthAdjust="spacingAndGlyphs">Viet Nam</text>
<text x="143.40" y="236.26" font-size="9.6" font-weight="bold" fill="#1e1e1e" stroke="#1e1e1e" stroke-width="0.3" textLength="60.50" lengthAdjust="spacingAndGlyphs">Slovak Republic</text>
<text x="292.50" y="244.21" font-size="9.6" font-weight="bold" fill="#1e1e1e" stroke="#1e1e1e" stroke-width="0.3" textLength="20.00" lengthAdjust="spacingAndGlyphs">Malta</text>
<text x="350.50" y="245.21" font-size="9.6" font-weight="bold" fill="#1e1e1e" stroke="#1e1e1e" stroke-width="0.3" textLength="26.50" lengthAdjust="spacingAndGlyphs">Iceland</text>
<text x="408.80" y="242.76" font-size="9.6" font-weight="bold" fill="#1e1e1e" stroke="#1e1e1e" stroke-width="0.3" textLength="52.60" lengthAdjust="spacingAndGlyphs">United States*</text>
<text x="205.50" y="247.46" font-size="9.6" font-weight="bold" fill="#1e1e1e" stroke="#1e1e1e" stroke-width="0.3" textLength="26.50" lengthAdjust="spacingAndGlyphs">Croatia</text>
<text x="161.80" y="253.16" font-size="9.6" font-weight="bold" fill="#1e1e1e" stroke="#1e1e1e" stroke-width="0.3" textLength="27.20" lengthAdjust="spacingAndGlyphs">Türkiye</text>
<text x="255.00" y="255.46" font-size="9.6" font-weight="bold" fill="#1e1e1e" stroke="#1e1e1e" stroke-width="0.3" textLength="20.60" lengthAdjust="spacingAndGlyphs">Israel</text>
<text x="135.60" y="265.76" font-size="9.6" font-weight="bold" fill="#1e1e1e" stroke="#1e1e1e" stroke-width="0.3" textLength="23.10" lengthAdjust="spacingAndGlyphs">Serbia</text>
<text x="35.00" y="268.76" font-size="9.6" font-weight="bold" font-style="italic" fill="#1e1e1e" stroke="#1e1e1e" stroke-width="0.3" textLength="66.40" lengthAdjust="spacingAndGlyphs">Ukrainian regions</text>
<text x="66.60" y="278.46" font-size="9.6" font-weight="bold" font-style="italic" fill="#1e1e1e" stroke="#1e1e1e" stroke-width="0.3" textLength="34.80" lengthAdjust="spacingAndGlyphs">(18 of 27)</text>
<text x="393.75" y="271.66" font-size="9.6" font-weight="bold" fill="#1e1e1e" stroke="#1e1e1e" stroke-width="0.3" textLength="70.15" lengthAdjust="spacingAndGlyphs">Brunei Darussalam</text>
<text x="197.00" y="281.86" font-size="9.6" font-weight="bold" fill="#1e1e1e" stroke="#1e1e1e" stroke-width="0.3" textLength="25.80" lengthAdjust="spacingAndGlyphs">Greece</text>
<text x="228.50" y="288.16" font-size="9.6" font-weight="bold" fill="#1e1e1e" stroke="#1e1e1e" stroke-width="0.3" textLength="32.20" lengthAdjust="spacingAndGlyphs">Romania</text>
<text x="450.40" y="288.36" font-size="9.6" font-weight="bold" fill="#1e1e1e" stroke="#1e1e1e" stroke-width="0.3" textLength="78.60" lengthAdjust="spacingAndGlyphs">United Arab Emirates</text>
<text x="58.20" y="297.96" font-size="9.6" font-weight="bold" fill="#1e1e1e" stroke="#1e1e1e" stroke-width="0.3" textLength="33.60" lengthAdjust="spacingAndGlyphs">Mongolia</text>
<text x="114.10" y="295.46" font-size="9.6" font-weight="bold" fill="#1e1e1e" stroke="#1e1e1e" stroke-width="0.3" textLength="44.60" lengthAdjust="spacingAndGlyphs">Montenegro</text>
<text x="187.80" y="303.16" font-size="9.6" font-weight="bold" fill="#1e1e1e" stroke="#1e1e1e" stroke-width="0.3" textLength="42.90" lengthAdjust="spacingAndGlyphs">Kazakhstan</text>
<text x="75.90" y="314.96" font-size="9.6" font-weight="bold" fill="#1e1e1e" stroke="#1e1e1e" stroke-width="0.3" textLength="31.10" lengthAdjust="spacingAndGlyphs">Moldova</text>
<text x="217.60" y="314.56" font-size="9.6" font-weight="bold" fill="#1e1e1e" stroke="#1e1e1e" stroke-width="0.3" textLength="30.70" lengthAdjust="spacingAndGlyphs">Bulgaria</text>
<text x="588.20" y="315.16" font-size="9.6" font-weight="bold" fill="#1e1e1e" stroke="#1e1e1e" stroke-width="0.3" textLength="21.10" lengthAdjust="spacingAndGlyphs">Qatar</text>
<text x="206.50" y="323.26" font-size="9.6" font-weight="bold" fill="#1e1e1e" stroke="#1e1e1e" stroke-width="0.3" textLength="19.10" lengthAdjust="spacingAndGlyphs">Chile</text>
<text x="162.20" y="333.26" font-size="9.6" font-weight="bold" fill="#1e1e1e" stroke="#1e1e1e" stroke-width="0.3" textLength="31.20" lengthAdjust="spacingAndGlyphs">Uruguay</text>
<text x="205.50" y="334.66" font-size="9.6" font-weight="bold" fill="#1e1e1e" stroke="#1e1e1e" stroke-width="0.3" textLength="31.80" lengthAdjust="spacingAndGlyphs">Malaysia</text>
<text x="49.10" y="333.66" font-size="9.6" font-weight="bold" font-style="italic" fill="#1e1e1e" stroke="#1e1e1e" stroke-width="0.3" textLength="65.40" lengthAdjust="spacingAndGlyphs">Baku (Azerbaijan)</text>
<text x="128.00" y="334.66" font-size="9.6" font-weight="bold" fill="#1e1e1e" stroke="#1e1e1e" stroke-width="0.3" textLength="25.50" lengthAdjust="spacingAndGlyphs">Mexico</text>
<text x="69.80" y="341.66" font-size="9.6" font-weight="bold" fill="#1e1e1e" stroke="#1e1e1e" stroke-width="0.3" textLength="29.60" lengthAdjust="spacingAndGlyphs">Georgia</text>
<text x="139.70" y="345.16" font-size="9.6" font-weight="bold" fill="#1e1e1e" stroke="#1e1e1e" stroke-width="0.3" textLength="31.60" lengthAdjust="spacingAndGlyphs">Thailand</text>
<text x="80.30" y="351.36" font-size="9.6" font-weight="bold" fill="#1e1e1e" stroke="#1e1e1e" stroke-width="0.3" textLength="17.50" lengthAdjust="spacingAndGlyphs">Peru</text>
<text x="178.30" y="351.76" font-size="9.6" font-weight="bold" fill="#1e1e1e" stroke="#1e1e1e" stroke-width="0.3" textLength="62.40" lengthAdjust="spacingAndGlyphs">North Macedonia</text>
<text x="300.90" y="354.76" font-size="9.6" font-weight="bold" fill="#1e1e1e" stroke="#1e1e1e" stroke-width="0.3" textLength="47.40" lengthAdjust="spacingAndGlyphs">Saudi Arabia</text>
<text x="25.50" y="361.16" font-size="9.6" font-weight="bold" fill="#1e1e1e" stroke="#1e1e1e" stroke-width="0.3" textLength="32.20" lengthAdjust="spacingAndGlyphs">Morocco</text>
<text x="156.20" y="362.86" font-size="9.6" font-weight="bold" fill="#1e1e1e" stroke="#1e1e1e" stroke-width="0.3" textLength="39.80" lengthAdjust="spacingAndGlyphs">Costa Rica</text>
<text x="63.30" y="364.26" font-size="9.6" font-weight="bold" fill="#1e1e1e" stroke="#1e1e1e" stroke-width="0.3" textLength="30.20" lengthAdjust="spacingAndGlyphs">Jamaica*</text>
<text x="163.30" y="374.36" font-size="9.6" font-weight="bold" fill="#1e1e1e" stroke="#1e1e1e" stroke-width="0.3" textLength="36.20" lengthAdjust="spacingAndGlyphs">Argentina</text>
<text x="119.30" y="377.96" font-size="9.6" font-weight="bold" fill="#1e1e1e" stroke="#1e1e1e" stroke-width="0.3" textLength="20.50" lengthAdjust="spacingAndGlyphs">Brazil</text>
<text x="15.70" y="381.66" font-size="9.6" font-weight="bold" font-style="italic" fill="#1e1e1e" stroke="#1e1e1e" stroke-width="0.3" textLength="41.00" lengthAdjust="spacingAndGlyphs">Palestinian</text>
<text x="21.70" y="391.26" font-size="9.6" font-weight="bold" font-style="italic" fill="#1e1e1e" stroke="#1e1e1e" stroke-width="0.3" textLength="35.00" lengthAdjust="spacingAndGlyphs">Authority</text>
<text x="159.10" y="383.66" font-size="9.6" font-weight="bold" fill="#1e1e1e" stroke="#1e1e1e" stroke-width="0.3" textLength="35.30" lengthAdjust="spacingAndGlyphs">Colombia</text>
<text x="119.30" y="390.96" font-size="9.6" font-weight="bold" fill="#1e1e1e" stroke="#1e1e1e" stroke-width="0.3" textLength="27.50" lengthAdjust="spacingAndGlyphs">Albania</text>
<text x="121.00" y="400.26" font-size="9.6" font-weight="bold" fill="#1e1e1e" stroke="#1e1e1e" stroke-width="0.3" textLength="36.20" lengthAdjust="spacingAndGlyphs">Indonesia</text>
<text x="207.60" y="406.66" font-size="9.6" font-weight="bold" fill="#1e1e1e" stroke="#1e1e1e" stroke-width="0.3" textLength="32.50" lengthAdjust="spacingAndGlyphs">Panama*</text>
<text x="105.00" y="407.96" font-size="9.6" font-weight="bold" font-style="italic" fill="#1e1e1e" stroke="#1e1e1e" stroke-width="0.3" textLength="28.50" lengthAdjust="spacingAndGlyphs">Kosovo</text>
<text x="22.70" y="412.86" font-size="9.6" font-weight="bold" fill="#1e1e1e" stroke="#1e1e1e" stroke-width="0.3" textLength="40.80" lengthAdjust="spacingAndGlyphs">Uzbekistan</text>
<text x="85.50" y="418.16" font-size="9.6" font-weight="bold" fill="#1e1e1e" stroke="#1e1e1e" stroke-width="0.3" textLength="40.80" lengthAdjust="spacingAndGlyphs">Philippines</text>
<text x="132.80" y="419.46" font-size="9.6" font-weight="bold" fill="#1e1e1e" stroke="#1e1e1e" stroke-width="0.3" textLength="35.40" lengthAdjust="spacingAndGlyphs">Paraguay</text>
<text x="146.90" y="433.26" font-size="9.6" font-weight="bold" fill="#1e1e1e" stroke="#1e1e1e" stroke-width="0.3" textLength="74.40" lengthAdjust="spacingAndGlyphs">Dominican Republic</text>
<text x="18.10" y="445.96" font-size="9.6" font-weight="bold" fill="#1e1e1e" stroke="#1e1e1e" stroke-width="0.3" textLength="36.90" lengthAdjust="spacingAndGlyphs">Cambodia</text>
<text x="83.10" y="446.86" font-size="9.6" font-weight="bold" fill="#1e1e1e" stroke="#1e1e1e" stroke-width="0.3" textLength="41.50" lengthAdjust="spacingAndGlyphs">El Salvador</text>
<text x="60.10" y="456.96" font-size="9.6" font-weight="bold" fill="#1e1e1e" stroke="#1e1e1e" stroke-width="0.3" textLength="39.00" lengthAdjust="spacingAndGlyphs">Guatemala</text>
<text transform="translate(92.5,385.5) rotate(-55)" font-size="9.6" font-weight="bold" fill="#1e1e1e" textLength="27" lengthAdjust="spacingAndGlyphs">Jordan</text>
<text x="579.6" y="234.0" font-size="7.8" font-weight="bold" fill="#1e1e1e" stroke="#222" stroke-width="0.35" textLength="92.4" lengthAdjust="spacingAndGlyphs">Média da OCDE: 472 Pontos</text>
<text transform="translate(286.8,454.6) rotate(-90)" font-size="7.8" font-weight="bold" fill="#1e1e1e" stroke="#222" stroke-width="0.35" textLength="92.6" lengthAdjust="spacingAndGlyphs">Média da OCDE: US$ 48 388</text>
<text x="18.5" y="463.85" font-size="10.4" text-anchor="end" fill="#333" textLength="12.6" lengthAdjust="spacingAndGlyphs">320</text>
<text x="18.5" y="432.20" font-size="10.4" text-anchor="end" fill="#333" textLength="12.6" lengthAdjust="spacingAndGlyphs">340</text>
<text x="18.5" y="401.30" font-size="10.4" text-anchor="end" fill="#333" textLength="12.6" lengthAdjust="spacingAndGlyphs">360</text>
<text x="18.5" y="369.60" font-size="10.4" text-anchor="end" fill="#333" textLength="12.6" lengthAdjust="spacingAndGlyphs">380</text>
<text x="18.5" y="338.10" font-size="10.4" text-anchor="end" fill="#333" textLength="12.6" lengthAdjust="spacingAndGlyphs">400</text>
<text x="18.5" y="306.80" font-size="10.4" text-anchor="end" fill="#333" textLength="12.6" lengthAdjust="spacingAndGlyphs">420</text>
<text x="18.5" y="275.70" font-size="10.4" text-anchor="end" fill="#333" textLength="12.6" lengthAdjust="spacingAndGlyphs">440</text>
<text x="18.5" y="244.70" font-size="10.4" text-anchor="end" fill="#333" textLength="12.6" lengthAdjust="spacingAndGlyphs">460</text>
<text x="18.5" y="214.20" font-size="10.4" text-anchor="end" fill="#333" textLength="12.6" lengthAdjust="spacingAndGlyphs">480</text>
<text x="18.5" y="183.00" font-size="10.4" text-anchor="end" fill="#333" textLength="12.6" lengthAdjust="spacingAndGlyphs">500</text>
<text x="18.5" y="151.70" font-size="10.4" text-anchor="end" fill="#333" textLength="12.6" lengthAdjust="spacingAndGlyphs">520</text>
<text x="18.5" y="120.20" font-size="10.4" text-anchor="end" fill="#333" textLength="12.6" lengthAdjust="spacingAndGlyphs">540</text>
<text x="18.5" y="89.40" font-size="10.4" text-anchor="end" fill="#333" textLength="12.6" lengthAdjust="spacingAndGlyphs">560</text>
<text x="18.5" y="58.10" font-size="10.4" text-anchor="end" fill="#333" textLength="12.6" lengthAdjust="spacingAndGlyphs">580</text>
<text x="18.5" y="27.15" font-size="10.4" text-anchor="end" fill="#333" textLength="12.6" lengthAdjust="spacingAndGlyphs">600</text>
<text x="29.00" y="481.3" font-size="10.4" text-anchor="middle" fill="#333" textLength="5.6" lengthAdjust="spacingAndGlyphs">0</text>
<text x="137.65" y="481.3" font-size="10.4" text-anchor="middle" fill="#333" textLength="23.5" lengthAdjust="spacingAndGlyphs">20 000</text>
<text x="246.20" y="481.3" font-size="10.4" text-anchor="middle" fill="#333" textLength="23.5" lengthAdjust="spacingAndGlyphs">40 000</text>
<text x="354.60" y="481.3" font-size="10.4" text-anchor="middle" fill="#333" textLength="23.5" lengthAdjust="spacingAndGlyphs">60 000</text>
<text x="463.70" y="481.3" font-size="10.4" text-anchor="middle" fill="#333" textLength="23.5" lengthAdjust="spacingAndGlyphs">80 000</text>
<text x="571.45" y="481.3" font-size="10.4" text-anchor="middle" fill="#333" textLength="28.5" lengthAdjust="spacingAndGlyphs">100 000</text>
<text x="680.50" y="481.3" font-size="10.4" text-anchor="middle" fill="#333" textLength="28.5" lengthAdjust="spacingAndGlyphs">120 000</text>
</svg></body></html>
